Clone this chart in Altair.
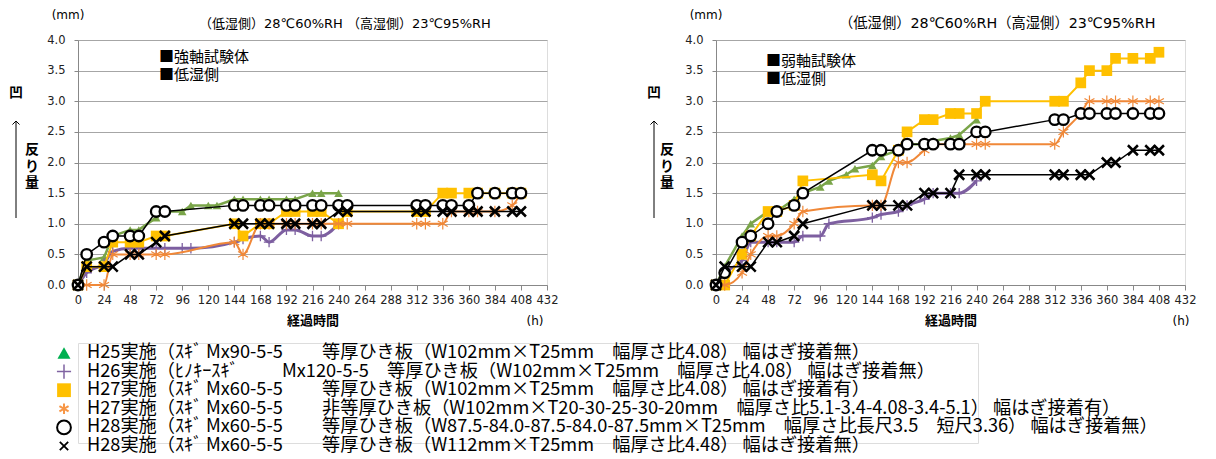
import altair as alt
import pandas as pd

N = None
# elapsed time (h) grid shared by all series
T = [0, 8, 24, 32, 48, 56, 72, 80, 96, 104, 120, 128, 144, 152, 168, 176, 192, 200,
     216, 224, 240, 248, 312, 320, 336, 344, 360, 368, 384, 400, 408]

# ---- left panel: strong-axis specimens (low-humidity side) ----
L_H25 = [0, 0.4, 0.45, 0.8, 0.9, 0.9, 1.1, 1.2, 1.2, 1.3, 1.3, 1.3, 1.4, 1.4, 1.4, 1.4, 1.4, 1.4,
         1.5, 1.5, 1.5, N, N, N, N, N, N, N, N, N, N]
L_H26 = [0, 0.2, 0.35, 0.55, 0.6, 0.6, 0.6, 0.6, 0.6, 0.6, N, N, 0.7, 0.75, 0.8, 0.7, 0.9, 0.9,
         0.8, 0.8, 1.0, N, N, N, N, N, N, N, N, N, N]
L_H27 = [0, 0.3, 0.3, 0.7, 0.7, 0.7, 0.8, 0.8, N, N, N, N, 1.0, 0.8, 1.0, 1.0, 1.2, 1.2,
         1.2, 1.2, 1.0, 1.2, 1.2, 1.2, 1.5, 1.5, 1.5, 1.5, 1.5, 1.5, 1.5]
L_H27N = [0, 0, 0, 0.5, 0.5, 0.5, 0.5, 0.5, N, N, N, N, 0.7, 0.5, 1.0, 1.0, 1.0, 1.0,
          1.0, 1.0, 1.0, 1.0, 1.0, 1.0, 1.0, 1.2, 1.2, 1.2, 1.2, 1.3, 1.5]
L_H28C = [0, 0.5, 0.7, 0.8, 0.8, 0.8, 1.2, 1.2, N, N, N, N, 1.3, 1.3, 1.3, 1.3, 1.3, 1.3,
          1.3, 1.3, 1.3, 1.3, 1.3, 1.3, 1.3, 1.3, 1.3, 1.5, 1.5, 1.5, 1.5]
L_H28X = [0, 0.3, 0.3, 0.3, 0.5, 0.5, 0.7, 0.8, N, N, N, N, 1.0, 1.0, 1.0, 1.0, 1.0, 1.0,
          1.0, 1.0, 1.2, 1.2, 1.2, 1.2, 1.2, 1.2, 1.2, 1.2, 1.2, 1.2, 1.2]

# ---- right panel: weak-axis specimens (low-humidity side) ----
R_H25 = [0, 0.3, 0.8, 1.0, 1.2, 1.2, 1.4, 1.5, 1.6, 1.7, 1.8, 1.9, 1.95, 2.1, 2.2, 2.3, 2.3, 2.35,
         2.4, 2.45, 2.7, N, N, N, N, N, N, N, N, N, N]
R_H26 = [0, 0.2, 0.4, 0.7, 0.7, 0.7, 0.7, 0.8, 0.8, 1.0, N, N, 1.1, 1.15, 1.2, 1.3, 1.4, 1.5,
         1.5, 1.5, 1.7, N, N, N, N, N, N, N, N, N, N]
R_H27 = [0, 0, 0.5, 0.8, 1.2, 1.2, 1.3, 1.7, N, N, N, N, 1.8, 1.7, 2.2, 2.5, 2.7, 2.7,
         2.8, 2.8, 2.8, 3.0, 3.0, 3.0, 3.3, 3.5, 3.5, 3.7, 3.7, 3.7, 3.8]
R_H27N = [0, 0, 0.2, 0.5, 0.8, 0.8, 1.0, 1.2, N, N, N, N, 1.3, 1.3, 2.0, 2.0, 2.2, 2.3,
          2.3, 2.3, 2.3, 2.3, 2.3, 2.5, 2.8, 3.0, 3.0, 3.0, 3.0, 3.0, 3.0]
R_H28C = [0, 0.2, 0.7, 0.8, 1.0, 1.2, 1.3, 1.5, N, N, N, N, 2.2, 2.2, 2.2, 2.3, 2.3, 2.3,
          2.3, 2.3, 2.5, 2.5, 2.7, 2.7, 2.8, 2.8, 2.8, 2.8, 2.8, 2.8, 2.8]
R_H28X = [0, 0.3, 0.3, 0.3, 0.7, 0.7, 0.8, 1.0, N, N, N, N, 1.3, 1.3, 1.3, 1.3, 1.5, 1.5,
          1.5, 1.8, 1.8, 1.8, 1.8, 1.8, 1.8, 1.8, 2.0, 2.0, 2.2, 2.2, 2.2]

KEYS = ["H25", "H26", "H27", "H27N", "H28C", "H28X"]

XTICKS = list(range(0, 433, 24))
YTICKS = [0, 0.5, 1.0, 1.5, 2.0, 2.5, 3.0, 3.5, 4.0]

TITLE_L = "（低湿側）28℃60%RH （高湿側）23℃95%RH"
TITLE_R = "（低湿側）28℃60%RH（高湿側）23℃95%RH"
BOX_L = ["■強軸試験体", "■低湿側"]
BOX_R = ["■弱軸試験体", "■低湿側"]
YUNIT = "(mm)"
XUNIT = "(h)"
XTITLE = "経過時間"
YTITLE = "反\nり\n量"
CONCAVE = "凹"

# legend rows: prefix, specimen, description
LEG_A = ["H25実施（ｽｷﾞ", "H26実施（ﾋﾉｷｰｽｷﾞ", "H27実施（ｽｷﾞ", "H27実施（ｽｷﾞ",
         "H28実施（ｽｷﾞ", "H28実施（ｽｷﾞ"]
LEG_M = ["Mx90-5-5", "Mx120-5-5", "Mx60-5-5", "Mx60-5-5", "Mx60-5-5", "Mx60-5-5"]
LEG_B = ["等厚ひき板（W102mm×T25mm　幅厚さ比4.08） 幅はぎ接着無）",
         "等厚ひき板（W102mm×T25mm　幅厚さ比4.08） 幅はぎ接着無）",
         "等厚ひき板（W102mm×T25mm　幅厚さ比4.08） 幅はぎ接着有）",
         "非等厚ひき板（W102mm×T20-30-25-30-20mm　幅厚さ比5.1-3.4-4.08-3.4-5.1） 幅はぎ接着有）",
         "等厚ひき板（W87.5-84.0-87.5-84.0-87.5mm×T25mm　幅厚さ比長尺3.5　短尺3.36） 幅はぎ接着無）",
         "等厚ひき板（W112mm×T25mm　幅厚さ比4.48） 幅はぎ接着無）"]
LEG_MX = [128, 204, 128, 128, 128, 128]
LEG_BX = [244, 309, 244, 244, 244, 244]

CJK = "Noto Sans CJK JP"
LAT = "DejaVu Sans"
MIX = "DejaVu Sans, Noto Sans CJK JP"

PLUS = "M-1,0L1,0M0,-1L0,1"
STAR = "M0,-1L0,1M-0.87,-0.5L0.87,0.5M-0.87,0.5L0.87,-0.5"
XSYM = "M-1,-1L1,1M-1,1L1,-1"

STY = {
    "H25": dict(line=dict(color="#7AA549", strokeWidth=2.5, interpolate="linear"),
                pt=dict(shape="triangle-up", filled=True, color="#7AA549", size=75)),
    "H26": dict(line=dict(color="#7D5FA0", strokeWidth=3, interpolate="monotone"),
                pt=dict(shape=PLUS, filled=False, color="#7D5FA0", strokeWidth=1.3, size=110)),
    "H27": dict(line=dict(color="#FFC000", strokeWidth=2, interpolate="linear"),
                pt=dict(shape="square", filled=True, color="#FFC000", size=115)),
    "H27N": dict(line=dict(color="#F08838", strokeWidth=2, interpolate="monotone"),
                 pt=dict(shape=STAR, filled=False, color="#F08838", strokeWidth=1.2, size=130)),
    "H28C": dict(line=dict(color="black", strokeWidth=1.5, interpolate="linear"),
                 pt=dict(shape="circle", filled=True, fill="white", stroke="black", strokeWidth=2.3, size=110)),
    "H28X": dict(line=dict(color="black", strokeWidth=1.5, interpolate="linear"),
                 pt=dict(shape=XSYM, filled=False, color="black", strokeWidth=2.5, size=100)),
}

LEG_STY = [
    dict(shape="triangle-up", filled=True, color="#00B050", size=170),
    dict(shape=PLUS, filled=False, color="#8064A2", strokeWidth=1.5, size=200),
    dict(shape="square", filled=True, color="#FFC000", size=190),
    dict(shape=STAR, filled=False, color="#F79646", strokeWidth=2, size=110),
    dict(shape="circle", filled=True, fill="white", stroke="black", strokeWidth=2, size=190),
    dict(shape=XSYM, filled=False, color="black", strokeWidth=1.8, size=70),
]

PW, PH = 469, 245


def long_df(vals):
    rows = []
    for k, arr in zip(KEYS, vals):
        for t, v in zip(T, arr):
            if v is not None:
                rows.append({"s": k, "h": t, "v": v})
    return pd.DataFrame(rows)


def xenc():
    return alt.X("h:Q", scale=alt.Scale(domain=[0, 432], nice=False, zero=False),
                 axis=alt.Axis(values=XTICKS, title=XTITLE, grid=False, labelFont=LAT,
                               labelFontSize=11.5, labelColor="#222", labelPadding=4,
                               tickSize=5, tickColor="#888", domainColor="#888",
                               titleFont=CJK, titleFontWeight="bold", titleFontSize=13,
                               titleColor="black", titlePadding=9,
                               labelFlush=False, labelOverlap=False))


def yenc():
    return alt.Y("v:Q", scale=alt.Scale(domain=[0, 4], nice=False),
                 axis=alt.Axis(values=YTICKS, format=".1f", title=None, grid=True,
                               gridColor="#A6A6A6", gridWidth=1.2, domainColor="#888",
                               tickColor="#888", tickSize=4, labelFont=LAT,
                               labelFontSize=11.5, labelPadding=9, labelColor="#222"))


def ann(text, x, y, size=13, font=CJK, weight="normal", align="left", lh=None):
    kw = dict(align=align, baseline="middle", fontSize=size, font=font,
              fontWeight=weight, color="black")
    if lh:
        kw.update(lineBreak="\n", lineHeight=lh)
    return alt.Chart(pd.DataFrame({"t": [text]})).mark_text(**kw).encode(
        text="t:N", x=alt.value(x), y=alt.value(y))


def panel(vals, title, tx, tsize, box, bx, by, hx, yx):
    df = long_df(vals)
    layers = []
    for k in KEYS:
        base = alt.Chart(df).transform_filter(alt.datum.s == k)
        layers.append(base.mark_line(**STY[k]["line"]).encode(x=xenc(), y=yenc()))
        layers.append(base.mark_point(opacity=1, **STY[k]["pt"]).encode(x=xenc(), y=yenc()))
    layers += [
        ann(title, tx, -16, size=tsize, font=MIX),
        ann(box[0], bx, by, size=15),
        ann(box[1], bx, by + 18, size=15),
        ann(YUNIT, -10, -25, size=12, font=LAT, align="center"),
        ann(XUNIT, hx, PH + 36, size=12, font=LAT, align="center"),
        ann(CONCAVE, -62, 53, size=14, weight="bold", align="center"),
        ann(YTITLE, yx, 110, size=14, weight="bold", align="center", lh=16.5),
        alt.Chart(pd.DataFrame({"a": [0]})).mark_rule(color="black", strokeWidth=1).encode(
            x=alt.value(-62), y=alt.value(81), y2=alt.value(178)),
        alt.Chart(pd.DataFrame({"a": [0]})).mark_point(
            shape="M-1,1L0,0L1,1", filled=False, color="black", strokeWidth=1, size=50,
            opacity=1).encode(x=alt.value(-62), y=alt.value(81)),
    ]
    return alt.layer(*layers).properties(width=PW, height=PH)


left = panel([L_H25, L_H26, L_H27, L_H27N, L_H28C, L_H28X], TITLE_L, 121, 13, BOX_L, 81, 17, 457, -46)
right = panel([R_H25, R_H26, R_H27, R_H27N, R_H28C, R_H28X], TITLE_R, 123, 14.3, BOX_R, 50, 21, 465, -49)

leg_df = pd.DataFrame({"r": list(range(6)), "a": LEG_A, "m": LEG_M, "mx": LEG_MX,
                       "b": LEG_B, "bx": LEG_BX})
ly = alt.Y("r:Q", scale=alt.Scale(domain=[0, 5], range=[10, 10 + 5 * 18.6]), axis=None)
leg_layers = []
for i, st in enumerate(LEG_STY):
    leg_layers.append(alt.Chart(leg_df).transform_filter(alt.datum.r == i)
                      .mark_point(opacity=1, **st).encode(x=alt.value(-14), y=ly))
tkw = dict(align="left", baseline="middle", font=CJK, fontSize=18.2, color="black")
leg_layers.append(alt.Chart(leg_df).mark_text(**tkw).encode(x=alt.value(9), y=ly, text="a:N"))
leg_layers.append(alt.Chart(leg_df).mark_text(**tkw).encode(
    x=alt.X("mx:Q", scale=None), y=ly, text="m:N"))
leg_layers.append(alt.Chart(leg_df).mark_text(**tkw).encode(
    x=alt.X("bx:Q", scale=None), y=ly, text="b:N"))
legend = alt.layer(*leg_layers).properties(width=900, height=100)

chart = alt.vconcat(
    alt.hconcat(left, right, spacing=87),
    legend,
    spacing=14,
).configure_view(stroke=None).configure(background="white").properties(
    padding={"left": 0, "top": 0, "right": 0, "bottom": 0})

chart.save("out.html", embed_options={"renderer": "svg", "actions": False})
